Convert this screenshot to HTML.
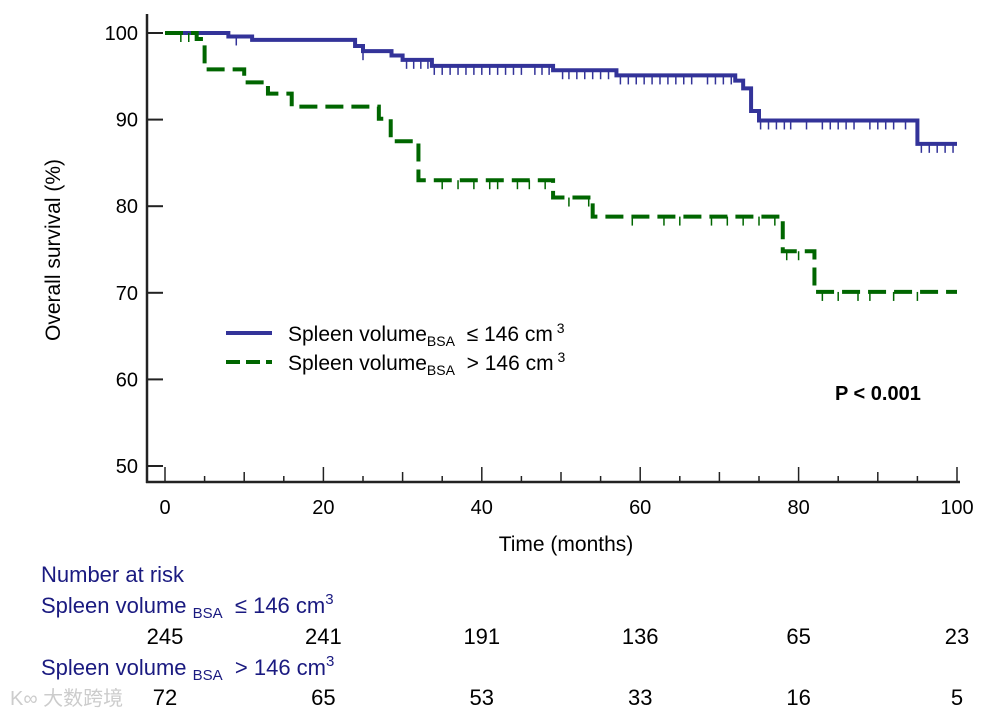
<!DOCTYPE html>
<html><head><meta charset="utf-8"><style>
body{margin:0;background:#fff;width:997px;height:718px;overflow:hidden;font-family:"Liberation Sans",Arial,sans-serif}
svg text{font-family:"Liberation Sans",Arial,sans-serif}
</style></head><body>
<svg id="chart" width="997" height="718" xmlns="http://www.w3.org/2000/svg">
<g id="axes"></g>
<g id="series"></g>
<g>
<line x1="226" y1="333" x2="272" y2="333" stroke="#333399" stroke-width="4"/>
<text x="288" y="341" font-size="21" fill="#000">Spleen volume<tspan font-size="14" dy="5">BSA</tspan><tspan dy="-5">&#160;&#160;≤ 146 cm</tspan><tspan font-size="14" dy="-8">&#160;3</tspan></text>
<line x1="226" y1="362" x2="272" y2="362" stroke="#006600" stroke-width="4" stroke-dasharray="14,6"/>
<text x="288" y="370" font-size="21" fill="#000">Spleen volume<tspan font-size="14" dy="5">BSA</tspan><tspan dy="-5">&#160;&#160;&gt; 146 cm</tspan><tspan font-size="14" dy="-8">&#160;3</tspan></text>
</g>
<text x="835" y="400" font-size="20" font-weight="bold">P &lt; 0.001</text>
<text x="566" y="551" font-size="21" text-anchor="middle">Time (months)</text>
<text transform="translate(60,250) rotate(-90)" font-size="21" text-anchor="middle">Overall survival (%)</text>
<g>
<text x="41" y="582" font-size="22" fill="#1a1a80">Number at risk</text>
<text x="41" y="613" font-size="22" fill="#1a1a80">Spleen volume&#160;<tspan font-size="15" dy="5">BSA</tspan><tspan dy="-5">&#160;&#160;≤ 146 cm</tspan><tspan font-size="15" dy="-9">3</tspan></text>
<text x="41" y="675" font-size="22" fill="#1a1a80">Spleen volume&#160;<tspan font-size="15" dy="5">BSA</tspan><tspan dy="-5">&#160;&#160;&gt; 146 cm</tspan><tspan font-size="15" dy="-9">3</tspan></text>
<g id="riskrows"></g>
</g>
<text x="10" y="705" font-size="20" fill="#ccc" font-family="Liberation Sans, Noto Sans CJK SC, sans-serif">K∞ 大数跨境</text>
</svg>
<script>
const xTicks=[0,20,40,60,80,100];
const yTicks=[50,60,70,80,90,100];
const lowSteps=[[0,100],[8,99.6],[11,99.2],[24,98.5],[25,97.9],[28.6,97.4],[30,96.9],[33.7,96.2],[49,95.7],[57,95.1],[72,94.5],[73,93.6],[74,91],[75,89.9],[95,87.2],[100,87.2]];
const highSteps=[[0,100],[4,99.3],[5,95.8],[10,94.3],[13,93],[16,91.5],[27,90.1],[28.5,87.5],[32,83],[49,81],[54,78.8],[78,74.8],[82,70.1],[100,70.1]];
const lowCensor=[9,25,30.5,31.4,32.3,33.2,34,35,36,37,38,39,40,41,42,43,44,45,46.7,47.6,48.5,50.2,51,52,53,54,55,56,57.5,58.5,59.5,60.5,61.5,62.5,63.5,64.5,65.5,66.5,68.5,69.5,70.5,71.5,75.2,76.2,77.2,78.2,79,81,83,84,85,86,87,89,90,91,92,93.5,95.5,96.5,97.5,98.5,99.5];
const highCensor=[2,3,35,37,39,41,42,44.5,46,48,51,53.5,59,63,65,69,71,73,75,77,78.5,80,83,85,87.5,89,92,95];
const riskTimes=[0,20,40,60,80,100];
const riskLow=[245,241,191,136,65,23];
const riskHigh=[72,65,53,33,16,5];
const X=t=>165+t*7.92, Y=v=>33+(100-v)*8.66;
const NS="http://www.w3.org/2000/svg";
function mk(tag,attrs,parent){const e=document.createElementNS(NS,tag);for(const k in attrs)e.setAttribute(k,attrs[k]);parent.appendChild(e);return e;}
const ax=document.getElementById('axes');
let l=mk('line',{x1:147,y1:14,x2:147,y2:483,stroke:'#222','stroke-width':2.5},ax);


l=mk('line',{x1:146,y1:482,x2:960,y2:482,stroke:'#222','stroke-width':2.5},ax);


yTicks.forEach(v=>{
 const t=mk('line',{x1:147,y1:Y(v),x2:163,y2:Y(v),stroke:'#222','stroke-width':2},ax);
 
 
 const tx=mk('text',{x:138,y:Y(v)+7,'font-size':20,'text-anchor':'end'},ax);tx.textContent=v;
 
 
});
for(let m=0;m<=100;m+=5){
 const major=m%20===0, mid=m%10===0;
 const t=mk('line',{x1:X(m),y1:482,x2:X(m),y2:major?467:(mid?472:476),stroke:'#222','stroke-width':1.5},ax);
 
 
}
xTicks.forEach(m=>{
 const tx=mk('text',{x:X(m),y:514,'font-size':20,'text-anchor':'middle'},ax);tx.textContent=m;
 
 
});
const sg=document.getElementById('series');
function stepPath(s){let d=`M${X(s[0][0])},${Y(s[0][1])}`;for(let i=1;i<s.length;i++){d+=`H${X(s[i][0])}V${Y(s[i][1])}`;}return d;}
function valAt(s,t){let v=s[0][1];for(const p of s){if(p[0]<=t)v=p[1];}return v;}
let p=mk('path',{d:stepPath(lowSteps),fill:'none',stroke:'#333399','stroke-width':4},sg);


p=mk('path',{d:stepPath(highSteps),fill:'none',stroke:'#006600','stroke-width':4,'stroke-dasharray':'18,8'},sg);


lowCensor.forEach(t=>{const y=Y(valAt(lowSteps,t));const c=mk('line',{x1:X(t),y1:y,x2:X(t),y2:y+9,stroke:'#333399','stroke-width':1.5},sg);
 
 });
highCensor.forEach(t=>{const y=Y(valAt(highSteps,t));const c=mk('line',{x1:X(t),y1:y,x2:X(t),y2:y+9,stroke:'#006600','stroke-width':1.5},sg);
 
 });
const rr=document.getElementById('riskrows');
riskTimes.forEach((m,i)=>{
 let tx=mk('text',{x:X(m),y:644,'font-size':22,'text-anchor':'middle'},rr);tx.textContent=riskLow[i];
 
 
 tx=mk('text',{x:X(m),y:705,'font-size':22,'text-anchor':'middle'},rr);tx.textContent=riskHigh[i];
 
 
});
</script>
</body></html>
